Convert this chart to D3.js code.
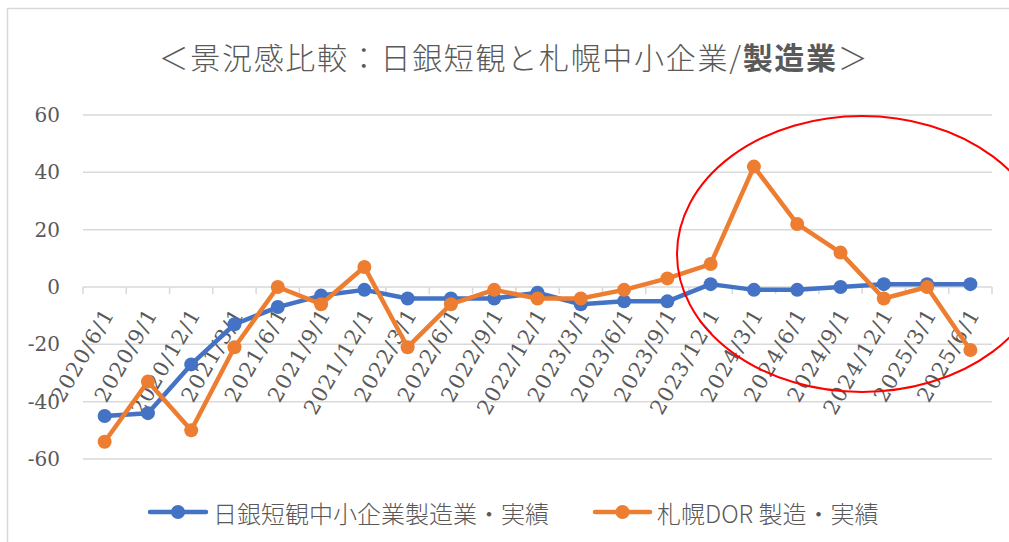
<!DOCTYPE html>
<html>
<head>
<meta charset="utf-8">
<script src="https://cdn.jsdelivr.net/npm/d3@7"></script>
<style>
	body { margin: 0; background: #ffffff; }
	svg { display: block; }
</style>
</head>
<body>
<div id="chart"></div>
<script>
// chart data
var categories = ["2020/6/1","2020/9/1","2020/12/1","2021/3/1","2021/6/1","2021/9/1","2021/12/1",
	"2022/3/1","2022/6/1","2022/9/1","2022/12/1","2023/3/1","2023/6/1","2023/9/1","2023/12/1",
	"2024/3/1","2024/6/1","2024/9/1","2024/12/1","2025/3/1","2025/6/1"];
var tankanValues = [-45,-44,-27,-13,-7,-3,-1,-4,-4,-4,-2,-6,-5,-5,1,-1,-1,0,1,1,1];
var sapporoValues = [-54,-33,-50,-21,0,-6,7,-21,-6,-1,-4,-4,-1,3,8,42,22,12,-4,0,-22];
var yTicks = [-60,-40,-20,0,20,40,60];
var seriesNames = ["日銀短観中小企業製造業・実績","札幌DOR 製造・実績"];
var seriesColors = ["#4472c4","#ed7d31"];

var width = 1009, height = 542;
var textColor = "#595959";
var gridColor = "#d9d9d9";

var svg = d3.select("#chart").append("svg")
	.attr("width",width)
	.attr("height",height);

svg.append("rect")
	.attr("x",0).attr("y",0)
	.attr("width",width).attr("height",height)
	.attr("fill","#ffffff");

// outer chart frame (runs off the page on the right and bottom)
svg.append("rect")
	.attr("x",7.5).attr("y",8.5)
	.attr("width",1040).attr("height",580)
	.attr("fill","none")
	.attr("stroke",gridColor)
	.attr("stroke-width",1.5);

var x = d3.scaleBand().domain(categories).range([83,992]).padding(0);
var y = d3.scaleLinear().domain([-60,60]).range([459,115]);

// gridlines
svg.selectAll("line.grid")
	.data(yTicks)
	.enter()
	.append("line")
	.attr("class","grid")
	.attr("x1",83).attr("x2",992)
	.attr("y1",function(d){return y(d);})
	.attr("y2",function(d){return y(d);})
	.attr("stroke",gridColor)
	.attr("stroke-width",1.5);

// category tick marks on the zero line
var xAxis = d3.axisBottom(x).tickSize(0).tickFormat("");
var gx = svg.append("g")
	.attr("transform","translate(0,"+y(0)+")")
	.call(xAxis);
gx.select(".domain").remove();
var bounds = categories.map(function(d){return x(d);}).concat([992]);
gx.selectAll("line.tk")
	.data(bounds)
	.enter()
	.append("line")
	.attr("class","tk")
	.attr("x1",function(d){return d;})
	.attr("x2",function(d){return d;})
	.attr("y1",0).attr("y2",7)
	.attr("stroke",gridColor)
	.attr("stroke-width",1.5);

// x labels, rotated
svg.selectAll("text.xlab")
	.data(categories)
	.enter()
	.append("text")
	.attr("class","xlab")
	.attr("transform",function(d){return "translate("+(x(d)+x.bandwidth()/2+4)+","+(y(0)+23)+") rotate(-60)";})
	.attr("text-anchor","end")
	.attr("dy","0.35em")
	.style("font-family","'DejaVu Serif', serif")
	.style("font-size","21px")
	.style("letter-spacing","1.2px")
	.attr("fill",textColor)
	.text(function(d){return d;});

// y labels
svg.selectAll("text.ylab")
	.data(yTicks)
	.enter()
	.append("text")
	.attr("class","ylab")
	.attr("x",60)
	.attr("y",function(d){return y(d);})
	.attr("dy","0.35em")
	.attr("text-anchor","end")
	.style("font-family","'DejaVu Serif', serif")
	.style("font-size","20px")
	.attr("fill",textColor)
	.text(function(d){return d;});

// series
var line = d3.line()
	.x(function(d,i){return x(categories[i])+x.bandwidth()/2;})
	.y(function(d){return y(d);});

[tankanValues,sapporoValues].forEach(function(vals,k){
	svg.append("path")
		.datum(vals)
		.attr("d",line)
		.attr("fill","none")
		.attr("stroke",seriesColors[k])
		.attr("stroke-width",4.5)
		.attr("stroke-linejoin","round")
		.attr("stroke-linecap","round");
	svg.selectAll("circle.s"+k)
		.data(vals)
		.enter()
		.append("circle")
		.attr("class","s"+k)
		.attr("cx",function(d,i){return x(categories[i])+x.bandwidth()/2;})
		.attr("cy",function(d){return y(d);})
		.attr("r",7)
		.attr("fill",seriesColors[k]);
});

// red highlight ellipse
svg.append("ellipse")
	.attr("cx",862).attr("cy",254)
	.attr("rx",185).attr("ry",138)
	.attr("fill","none")
	.attr("stroke","#ff0000")
	.attr("stroke-width",2);

// title
var title = svg.append("text")
	.attr("x",514)
	.attr("y",56)
	.attr("text-anchor","middle")
	.attr("dominant-baseline","central")
	.style("font-family","'Noto Sans CJK JP', sans-serif")
	.style("font-size","30px")
	.style("font-weight","300")
	.style("letter-spacing","1.7px")
	.attr("fill",textColor);
title.append("tspan").text("＜景況感比較：日銀短観と札幌中小企業/");
title.append("tspan").style("font-weight","bold").text("製造業");
title.append("tspan").text("＞");

// legend
var legendItems = [
	{x1:150, x2:206, tx:213},
	{x1:595, x2:650, tx:657}
];
legendItems.forEach(function(d,k){
	var ly = 512;
	svg.append("line")
		.attr("x1",d.x1).attr("x2",d.x2)
		.attr("y1",ly).attr("y2",ly)
		.attr("stroke",seriesColors[k])
		.attr("stroke-width",4.5)
		.attr("stroke-linecap","round");
	svg.append("circle")
		.attr("cx",(d.x1+d.x2)/2).attr("cy",ly)
		.attr("r",7)
		.attr("fill",seriesColors[k]);
	svg.append("text")
		.attr("x",d.tx).attr("y",ly)
		.attr("dominant-baseline","central")
		.style("font-family","'Noto Sans CJK JP', sans-serif")
		.style("font-size","24px")
		.style("font-weight","300")
		.attr("fill",textColor)
		.text(seriesNames[k]);
});
</script>
</body>
</html>
